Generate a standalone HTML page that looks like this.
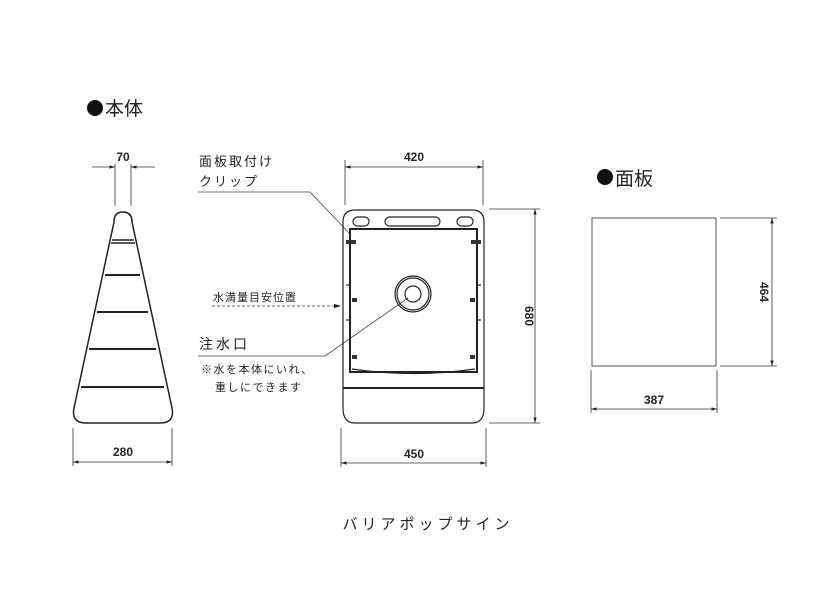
<!DOCTYPE html>
<html><head><meta charset="utf-8"><style>
html,body{margin:0;padding:0;background:#fff;width:834px;height:600px;overflow:hidden}
svg{display:block}
text{font-family:"Liberation Sans","Noto Sans CJK JP",sans-serif;fill:#222}
.n{font-family:"Liberation Sans Narrow","Liberation Sans",sans-serif;font-weight:bold;font-size:12px}
</style></head><body>
<svg width="834" height="600" viewBox="0 0 834 600" xmlns="http://www.w3.org/2000/svg">
<defs>
<marker id="a" viewBox="0 0 10 10" refX="10" refY="5" markerWidth="7" markerHeight="7" orient="auto-start-reverse"><path d="M0,2 L10,5 L0,8 z" fill="#222"/></marker>
</defs>
<circle cx="95" cy="108" r="8" fill="#111"/>
<text x="105" y="115" font-size="19">本体</text>
<circle cx="605" cy="177" r="8" fill="#111"/>
<text x="615" y="185" font-size="19">面板</text>

<!-- cone -->
<g stroke="#222" fill="none" stroke-width="1.5">
<path d="M123,212 Q132,212 132,222 L172,408 Q175,423 160,423 L86,423 Q71,423 74,408 L114,222 Q114,212 123,212 Z"/>
<line x1="112" y1="240" x2="134" y2="240"/>
<line x1="111" y1="243" x2="135" y2="243"/>
<line x1="105" y1="275" x2="140" y2="275" stroke-width="2"/>
<line x1="97" y1="312" x2="148" y2="312" stroke-width="2"/>
<line x1="89" y1="349" x2="156" y2="349" stroke-width="2"/>
<line x1="81" y1="387" x2="164" y2="387" stroke-width="2"/>
</g>
<g stroke="#333" fill="none" stroke-width="0.8">
<line x1="115" y1="164" x2="115" y2="206"/>
<line x1="131" y1="164" x2="131" y2="206"/>
<line x1="92" y1="167" x2="115" y2="167" marker-end="url(#a)"/>
<line x1="155" y1="167" x2="131" y2="167" marker-end="url(#a)"/>
<line x1="73" y1="428" x2="73" y2="466"/>
<line x1="172" y1="428" x2="172" y2="466"/>
<line x1="73" y1="462" x2="172" y2="462" marker-start="url(#a)" marker-end="url(#a)"/>
</g>
<text x="123" y="161" class="n" text-anchor="middle">70</text>
<text x="123" y="456" class="n" text-anchor="middle">280</text>

<!-- labels -->
<text x="199" y="166" font-size="13" letter-spacing="2">面板取付け</text>
<text x="199" y="186" font-size="13" letter-spacing="2">クリップ</text>
<polyline points="198,192 310,192 350,234" stroke="#444" fill="none" stroke-width="0.8"/>
<text x="213" y="301" font-size="11" letter-spacing="1">水満量目安位置</text>
<line x1="212" y1="306" x2="341" y2="306" stroke="#666" stroke-width="1" stroke-dasharray="3,2" marker-end="url(#a)"/>
<text x="199" y="349" font-size="14" letter-spacing="3">注水口</text>
<polyline points="198,356 325,356 408,298" stroke="#444" fill="none" stroke-width="0.8"/>
<text x="201" y="373" font-size="11" letter-spacing="1.5">※水を本体にいれ、</text>
<text x="215" y="391" font-size="11" letter-spacing="1.5">重しにできます</text>

<!-- body front -->
<g stroke="#222" fill="none" stroke-width="1.2">
<path d="M343,408 L343,222 Q343,210 355,210 L472,210 Q484,210 484,222 L484,408 Q484,423 472,423 L355,423 Q343,423 343,408 Z"/>
<rect x="353" y="217" width="16" height="9" rx="4.5"/>
<rect x="385" y="217" width="55" height="9" rx="4.5"/>
<rect x="457" y="217" width="16" height="9" rx="4.5"/>
<rect x="350" y="229" width="127" height="143" stroke-width="2"/>
<line x1="343" y1="388" x2="484" y2="388" stroke-width="2"/>
<path d="M352,369 Q413,378 475,369"/>
<circle cx="413" cy="294" r="18"/>
<circle cx="413" cy="294" r="16"/>
<circle cx="413" cy="294" r="8"/>
<line x1="346" y1="285" x2="350" y2="285"/>
<line x1="346" y1="320" x2="350" y2="320"/>
<line x1="477" y1="285" x2="481" y2="285"/>
<line x1="477" y1="320" x2="481" y2="320"/>
</g>
<g fill="#333">
<rect x="346" y="240" width="10" height="4"/><rect x="471" y="240" width="10" height="4"/>
<rect x="352" y="298" width="5" height="4"/><rect x="470" y="298" width="5" height="4"/>
<rect x="352" y="355" width="5" height="4"/><rect x="470" y="355" width="5" height="4"/>
</g>
<g stroke="#333" fill="none" stroke-width="0.8">
<line x1="345" y1="160" x2="345" y2="205"/>
<line x1="483" y1="160" x2="483" y2="205"/>
<line x1="345" y1="167" x2="483" y2="167" marker-start="url(#a)" marker-end="url(#a)"/>
<line x1="489" y1="209" x2="540" y2="209"/>
<line x1="489" y1="423" x2="540" y2="423"/>
<line x1="535" y1="209" x2="535" y2="423" marker-start="url(#a)" marker-end="url(#a)"/>
<line x1="341" y1="428" x2="341" y2="467"/>
<line x1="486" y1="428" x2="486" y2="467"/>
<line x1="341" y1="463" x2="486" y2="463" marker-start="url(#a)" marker-end="url(#a)"/>
</g>
<text x="414" y="161" class="n" text-anchor="middle">420</text>
<text x="414" y="458" class="n" text-anchor="middle">450</text>
<text transform="translate(525,316) rotate(90)" class="n" text-anchor="middle">680</text>

<!-- panel -->
<rect x="592" y="218" width="124" height="148" stroke="#555" fill="none" stroke-width="1"/>
<g stroke="#333" fill="none" stroke-width="0.8">
<line x1="720" y1="218" x2="777" y2="218"/>
<line x1="720" y1="366" x2="777" y2="366"/>
<line x1="772" y1="218" x2="772" y2="366" marker-start="url(#a)" marker-end="url(#a)"/>
<line x1="591" y1="370" x2="591" y2="413"/>
<line x1="717" y1="370" x2="717" y2="413"/>
<line x1="591" y1="409" x2="717" y2="409" marker-start="url(#a)" marker-end="url(#a)"/>
</g>
<text x="654" y="404" class="n" text-anchor="middle">387</text>
<text transform="translate(760,292) rotate(90)" class="n" text-anchor="middle">464</text>

<text x="428" y="529" font-size="15" letter-spacing="4" text-anchor="middle">バリアポップサイン</text>
</svg>
</body></html>
